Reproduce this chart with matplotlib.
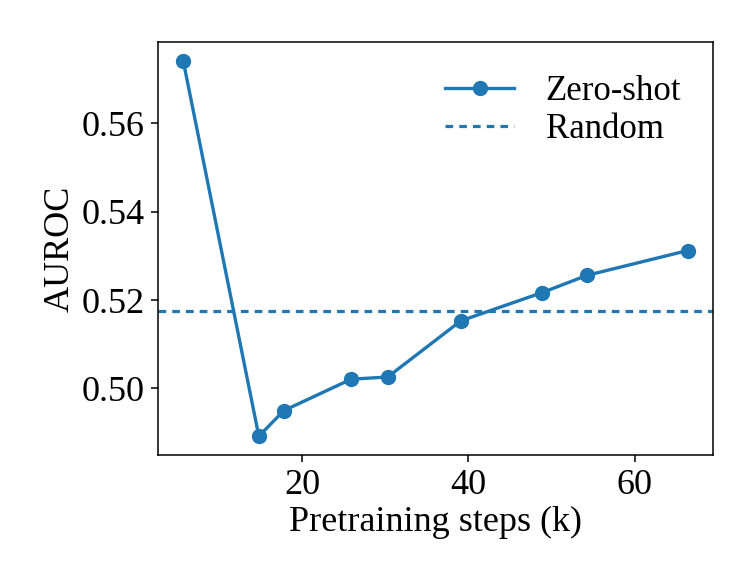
import matplotlib
matplotlib.use("Agg")
import matplotlib.pyplot as plt

steps_k = [5.7, 14.8, 17.8, 25.9, 30.3, 39.1, 48.9, 54.3, 66.4]
auroc = [0.5741, 0.4892, 0.4950, 0.5021, 0.5026, 0.5153, 0.5217, 0.5256, 0.5312]
random_auroc = 0.5176
xticks = [20, 40, 60]
yticks = [0.50, 0.52, 0.54, 0.56]

plt.rcParams['font.family'] = ['Liberation Serif', 'DejaVu Serif']
plt.rcParams['mathtext.fontset'] = 'stix'

fig = plt.figure(figsize=(7.53, 5.86), dpi=100)
ax = fig.add_axes([0.2098, 0.2235, 0.7371, 0.7048])

ax.plot(steps_k, auroc, marker='o', color='#1f77b4', lw=2.4, ms=10, label='Zero-shot')
ax.axhline(random_auroc, color='#1f77b4', lw=2.3, linestyle=(0, (2.4, 1.9)), label='Random')

ax.set_xticks(xticks)
ax.set_yticks(yticks)
ax.set_yticklabels([f"{v:.2f}" for v in yticks])
ax.tick_params(labelsize=26, width=1.1, length=4.8, pad=5)
for s in ax.spines.values():
    s.set_linewidth(1.1)

ax.set_xlabel('Pretraining steps (k)', fontsize=26, labelpad=3)
ax.set_ylabel('AUROC', fontsize=26, labelpad=3)

ax.legend(loc='upper right', bbox_to_anchor=(0.993, 0.988), frameon=False, fontsize=25,
          handlelength=2.0, handletextpad=0.9, borderaxespad=0.4, labelspacing=0.15)

fig.savefig('out.png', dpi=100)
